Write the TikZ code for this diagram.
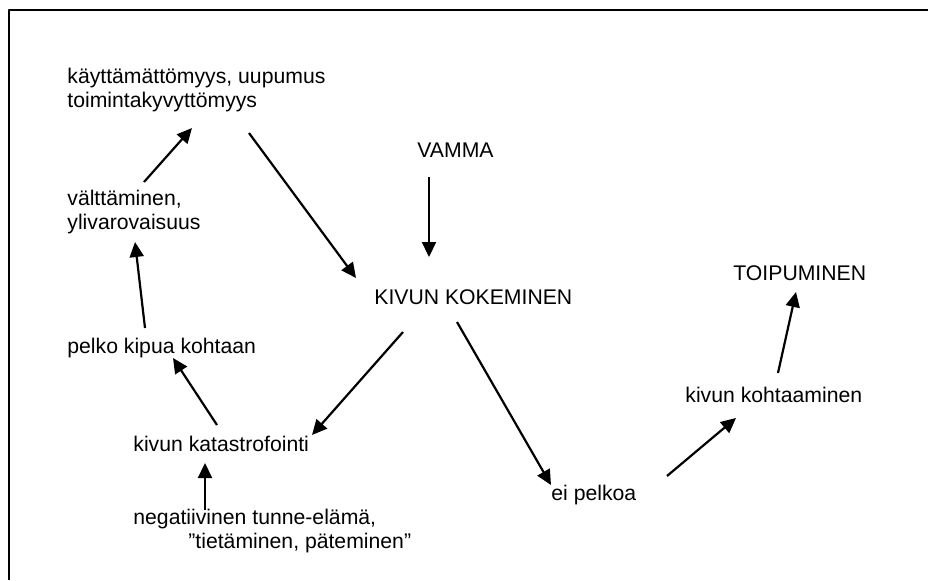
\documentclass[tikz,border=0pt]{standalone}
\usepackage{fontspec}
\setmainfont{Liberation Sans}
\usetikzlibrary{arrows.meta}
\begin{document}
\begin{tikzpicture}[x=0.5pt, y=-0.5pt, line join=round, >={Triangle[length=7.5pt,width=7pt]},
	lbl/.style={anchor=base west, inner sep=0pt, align=left, font=\fontsize{10.6}{11.8}\selectfont},
	arr/.style={->, line width=1.1pt}]
	\useasboundingbox (0,0) rectangle (928,580);
	\draw[line width=1pt] (928,9.5) -- (9,9.5) -- (9,580);
	% tekstit (monirivisissä base = viimeinen rivi)
	\node[lbl] (kayt) at (67,107) {käyttämättömyys, uupumus\\toimintakyvyttömyys};
	\node[lbl] (vamma) at (417,157) {VAMMA};
	\node[lbl] (valt) at (67,229) {välttäminen,\\ylivarovaisuus};
	\node[lbl] (kiv) at (374,304) {KIVUN KOKEMINEN};
	\node[lbl] (toip) at (733,280) {TOIPUMINEN};
	\node[lbl] (pelko) at (67,353) {pelko kipua kohtaan};
	\node[lbl] (kohd) at (685,402) {kivun kohtaaminen};
	\node[lbl] (kat) at (133,451) {kivun katastrofointi};
	\node[lbl] (eip) at (551,500) {ei pelkoa};
	\node[lbl] (neg) at (133,548) {negatiivinen tunne-elämä,\\\hspace*{27.5pt}”tietäminen, päteminen”};
	% nuolet
	\draw[arr] ([shift={(77,-47)}]valt.base west) -- ([shift={(125,21)}]kayt.base west);
	\draw[arr] ([shift={(182,26)}]kayt.base west) -- ([shift={(-18,-26)}]kiv.base west);
	\draw[arr] ([shift={(12,20)}]vamma.base west) -- ([shift={(55,-47)}]kiv.base west);
	\draw[arr] ([shift={(78,-25)}]pelko.base west) -- ([shift={(68,13)}]valt.base west);
	\draw[arr] ([shift={(84,-26)}]kat.base west) -- ([shift={(106,5)}]pelko.base west);
	\draw[arr] ([shift={(29,28)}]kiv.base west) -- ([shift={(179,-16)}]kat.base west);
	\draw[arr] ([shift={(72,-38)}]neg.base west) -- ([shift={(72,12)}]kat.base west);
	\draw[arr] ([shift={(83,18)}]kiv.base west) -- ([shift={(0,-15)}]eip.base west);
	\draw[arr] ([shift={(116,-24)}]eip.base west) -- ([shift={(51,16)}]kohd.base west);
	\draw[arr] ([shift={(93,-29)}]kohd.base west) -- ([shift={(63,12)}]toip.base west);
\end{tikzpicture}
\end{document}
